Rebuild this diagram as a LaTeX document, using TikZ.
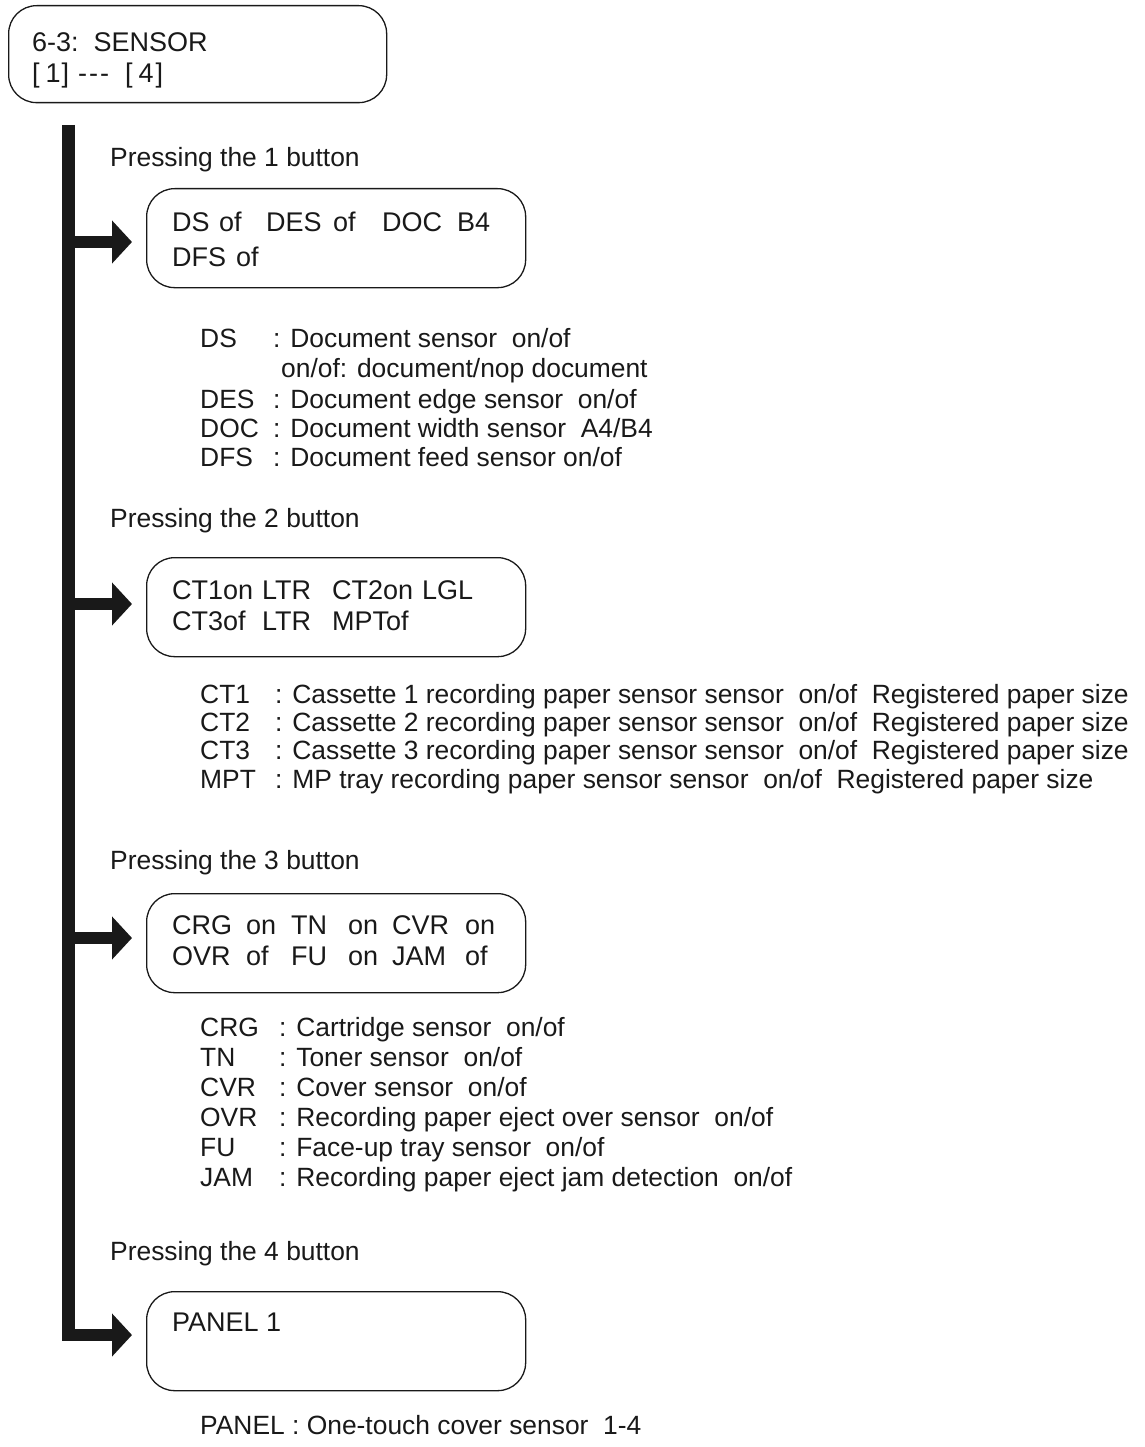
\documentclass[tikz,border=0pt]{standalone}
\usepackage{fontspec}
\setmainfont{Liberation Sans}
\usetikzlibrary{arrows.meta}
\newcommand{\cl}[2]{\makebox[#1pt][l]{#2}}
\begin{document}
\begin{tikzpicture}[x=1pt,y=-1pt,
  box/.style={draw=black!90, rounded corners=28pt, line width=1.3pt, inner sep=0pt, minimum width=379pt, minimum height=99pt, anchor=north west},
  txt/.style={anchor=base west, inner sep=0pt, text=black!90, font=\fontsize{26.4}{30}\selectfont},
  btxt/.style={anchor=base west, inner sep=0pt, text=black!90, font=\fontsize{27}{32}\selectfont},
  flow/.style={draw=black!90, line width=12.5pt, line join=miter, -{Triangle[length=20pt,width=42pt]}, shorten >=14pt}]
\useasboundingbox (0,0) rectangle (1144,1447);

% title box
\node[box, minimum width=378pt, minimum height=97pt] (top) at (8,5) {};
\node[btxt] (t0a) at (32,52) {6-3:\ \ SENSOR};
\node[btxt] (t0b) at (32,83) {[\hspace{6pt}1\hspace{1pt}]\hspace{9pt}{-}\hspace{2pt}{-}\hspace{2pt}{-}\hspace{16pt}[\hspace{6pt}4\hspace{2pt}]};

% boxes
\node[box] (b1) at (146,188) {};
\node[box] (b2) at (146,557) {};
\node[box] (b3) at (146,893) {};
\node[box] (b4) at (146,1291) {};

% flow bar and arrows
\coordinate (bartop) at (68.5,125);
\coordinate (j1) at (68.5,242);
\coordinate (j2) at (68.5,604);
\coordinate (j3) at (68.5,938);
\coordinate (j4) at (68.5,1335);
\draw[flow] (bartop) |- (j4 -| b4.west);
\draw[flow] (j1) -- (j1 -| b1.west);
\draw[flow] (j2) -- (j2 -| b2.west);
\draw[flow] (j3) -- (j3 -| b3.west);

% pressing labels
\node[txt] (p1) at (110,167) {Pressing the 1 button};
\node[txt] (p2) at (110,527) {Pressing the 2 button};
\node[txt] (p3) at (110,869) {Pressing the 3 button};
\node[txt] (p4) at (110,1260) {Pressing the 4 button};

% box 1 text
\node[btxt] (b1a) at (172,232) {\cl{47}{DS}\cl{47}{of}\cl{67}{DES}\cl{49}{of}\cl{75}{DOC}B4};
\node[btxt] (b1b) at (172,266) {\cl{64}{DFS}of};
% box 2 text
\node[btxt] (b2a) at (172,599) {\cl{90}{CT1on}\cl{70}{LTR}\cl{90}{CT2on}LGL};
\node[btxt] (b2b) at (172,630) {\cl{90}{CT3of}\cl{70}{LTR}MPTof};
% box 3 text
\node[btxt] (b3a) at (172,934) {\cl{74}{CRG}\cl{45}{on}\cl{57}{TN}\cl{44}{on}\cl{73}{CVR}on};
\node[btxt] (b3b) at (172,965) {\cl{74}{OVR}\cl{45}{of}\cl{57}{FU}\cl{44}{on}\cl{73}{JAM}of};
% box 4 text
\node[btxt] (b4a) at (172,1331) {PANEL 1};

% section 1 descriptions
\node[txt] (d1l) at (200,347) {DS};
\node[txt] (d1r) at (273,347) {: Document sensor\ \ on/of};
\node[txt] (d1c) at (281,377) {on/of: document/nop document};
\node[txt] (d2l) at (200,408) {DES};
\node[txt] (d2r) at (273,408) {: Document edge sensor\ \ on/of};
\node[txt] (d3l) at (200,437) {DOC};
\node[txt] (d3r) at (273,437) {: Document width sensor\ \ A4/B4};
\node[txt] (d4l) at (200,466) {DFS};
\node[txt] (d4r) at (273,466) {: Document feed sensor on/of};

% section 2 descriptions
\node[txt] (c1l) at (200,703) {CT1};
\node[txt] (c1r) at (275,703) {: Cassette 1 recording paper sensor sensor\ \ on/of\ \ Registered paper size};
\node[txt] (c2l) at (200,731) {CT2};
\node[txt] (c2r) at (275,731) {: Cassette 2 recording paper sensor sensor\ \ on/of\ \ Registered paper size};
\node[txt] (c3l) at (200,759) {CT3};
\node[txt] (c3r) at (275,759) {: Cassette 3 recording paper sensor sensor\ \ on/of\ \ Registered paper size};
\node[txt] (c4l) at (200,788) {MPT};
\node[txt] (c4r) at (275,788) {: MP tray recording paper sensor sensor\ \ on/of\ \ Registered paper size};

% section 3 descriptions
\node[txt] (e1l) at (200,1036) {CRG};
\node[txt] (e1r) at (279,1036) {: Cartridge sensor\ \ on/of};
\node[txt] (e2l) at (200,1066) {TN};
\node[txt] (e2r) at (279,1066) {: Toner sensor\ \ on/of};
\node[txt] (e3l) at (200,1096) {CVR};
\node[txt] (e3r) at (279,1096) {: Cover sensor\ \ on/of};
\node[txt] (e4l) at (200,1126) {OVR};
\node[txt] (e4r) at (279,1126) {: Recording paper eject over sensor\ \ on/of};
\node[txt] (e5l) at (200,1156) {FU};
\node[txt] (e5r) at (279,1156) {: Face-up tray sensor\ \ on/of};
\node[txt] (e6l) at (200,1186) {JAM};
\node[txt] (e6r) at (279,1186) {: Recording paper eject jam detection\ \ on/of};

% section 4 description
\node[txt] (f1) at (200,1434) {PANEL : One-touch cover sensor\ \ 1-4};
\end{tikzpicture}
\end{document}
